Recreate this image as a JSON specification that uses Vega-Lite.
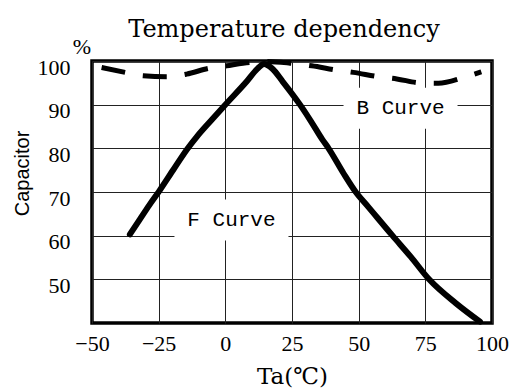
{
  "$schema": "https://vega.github.io/schema/vega-lite/v6.json",
  "width": 400,
  "height": 262,
  "autosize": {"type": "none"},
  "padding": {"left": 92, "top": 61, "right": 17, "bottom": 66},
  "background": "white",
  "config": {
    "view": {"stroke": "black", "strokeWidth": 3.5},
    "axis": {
      "grid": true,
      "gridColor": "#222222",
      "gridWidth": 1,
      "gridOpacity": 1,
      "domain": false,
      "ticks": false,
      "tickSize": 0,
      "labelColor": "black",
      "labelFlush": false,
      "labelOverlap": false,
      "titleColor": "black",
      "titleFontWeight": "normal"
    }
  },
  "title": {
    "text": "Temperature dependency",
    "font": "DejaVu Serif",
    "fontSize": 24,
    "fontWeight": "normal",
    "color": "black",
    "frame": "group",
    "anchor": "middle",
    "baseline": "alphabetic",
    "offset": -25,
    "dx": -8
  },
  "datasets": {
    "fcurve": [
      {"t": -35.8, "c": 60.3},
      {"t": -32, "c": 63.8},
      {"t": -28.5, "c": 67},
      {"t": -24.8, "c": 70.2},
      {"t": -19.5, "c": 75.1},
      {"t": -14.2, "c": 79.9},
      {"t": -10.5, "c": 82.8},
      {"t": -5, "c": 86.6},
      {"t": 0, "c": 90},
      {"t": 8, "c": 95.3},
      {"t": 12, "c": 98.2},
      {"t": 14.5, "c": 99.3},
      {"t": 17.5, "c": 98.3},
      {"t": 21.5, "c": 95.3},
      {"t": 28, "c": 90},
      {"t": 32, "c": 86.3},
      {"t": 36.4, "c": 82},
      {"t": 38.7, "c": 80},
      {"t": 44.3, "c": 74.3},
      {"t": 48.9, "c": 70},
      {"t": 53.6, "c": 66.6},
      {"t": 62.7, "c": 60},
      {"t": 69.5, "c": 55.2},
      {"t": 76.4, "c": 50},
      {"t": 86.5, "c": 44.5},
      {"t": 95.5, "c": 40.3}
    ],
    "bcurve": [
      {"t": -46.4, "c": 98.5},
      {"t": -37.6, "c": 97.4},
      {"t": -30.8, "c": 96.6},
      {"t": -22, "c": 96.4},
      {"t": -14.5, "c": 97.0},
      {"t": -6.4, "c": 98.3},
      {"t": 0.5, "c": 98.9},
      {"t": 6.6, "c": 99.5},
      {"t": 15, "c": 99.9},
      {"t": 24.3, "c": 99.5},
      {"t": 32.4, "c": 98.9},
      {"t": 41.8, "c": 97.9},
      {"t": 48, "c": 97.4},
      {"t": 57.4, "c": 96.4},
      {"t": 64.3, "c": 95.9},
      {"t": 73, "c": 95.0},
      {"t": 79.9, "c": 94.9},
      {"t": 89.2, "c": 96.2},
      {"t": 96, "c": 97.5}
    ],
    "labels": [
      {"label": "B Curve", "t": 65.7, "c": 89.2},
      {"label": "F Curve", "t": 2.3, "c": 63.6}
    ],
    "unit": [
      {"label": "%", "t": -50, "c": 100}
    ]
  },
  "encoding": {
    "x": {
      "field": "t",
      "type": "quantitative",
      "scale": {"domain": [-50, 100], "nice": false, "zero": false},
      "axis": {
        "values": [-50, -25, 0, 25, 50, 75, 100],
        "labelFont": "Liberation Serif",
        "labelFontSize": 22,
        "labelBaseline": "alphabetic",
        "labelPadding": 27,
        "title": "Ta(℃)",
        "titleFont": "DejaVu Serif",
        "titleFontSize": 23,
        "titleBaseline": "alphabetic",
        "titleY": 60
      }
    },
    "y": {
      "field": "c",
      "type": "quantitative",
      "scale": {"domain": [40, 100], "nice": false, "zero": false},
      "axis": {
        "values": [50, 60, 70, 80, 90, 100],
        "labelFont": "Liberation Serif",
        "labelFontSize": 22,
        "labelBaseline": "alphabetic",
        "labelOffset": 13,
        "labelPadding": 22,
        "labelAlign": "right",
        "title": "Capacitor",
        "titleFont": "Liberation Sans",
        "titleFontSize": 20,
        "titleAngle": 270,
        "titleBaseline": "middle",
        "titleAlign": "center",
        "titleX": -70,
        "titleY": 112
      }
    }
  },
  "layer": [
    {
      "data": {"name": "labels"},
      "mark": {"type": "point", "shape": "M-1,-0.36H1V0.36H-1Z", "size": 12996, "filled": true, "fill": "white", "strokeWidth": 0, "opacity": 1}
    },
    {
      "data": {"name": "fcurve"},
      "mark": {"type": "line", "color": "black", "strokeWidth": 6, "interpolate": "monotone", "strokeCap": "round"}
    },
    {
      "data": {"name": "bcurve"},
      "mark": {"type": "line", "color": "black", "strokeWidth": 5, "interpolate": "monotone", "strokeDash": [24, 18], "strokeCap": "butt"}
    },
    {
      "data": {"name": "labels"},
      "mark": {"type": "text", "font": "Liberation Mono", "fontSize": 21, "color": "black", "align": "center", "baseline": "middle"},
      "encoding": {"text": {"field": "label", "type": "nominal"}}
    },
    {
      "data": {"name": "unit"},
      "mark": {"type": "text", "font": "Liberation Serif", "fontSize": 22, "color": "black", "align": "center", "baseline": "middle", "dx": -10, "dy": -14},
      "encoding": {"text": {"field": "label", "type": "nominal"}}
    }
  ]
}
